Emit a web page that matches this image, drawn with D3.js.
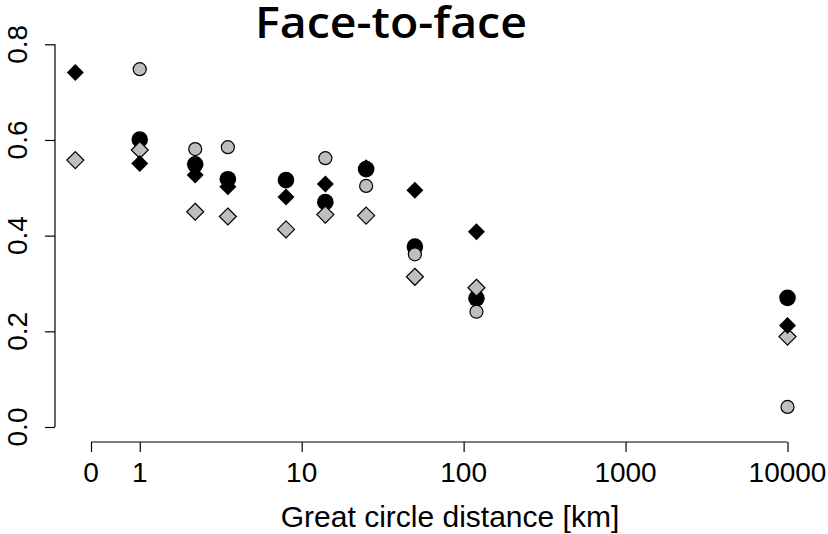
<!DOCTYPE html>
<html>
<head>
<meta charset="utf-8">
<script src="https://cdn.jsdelivr.net/npm/d3@7"></script>
<style>
    body { margin: 0; background: #fff; }
    text { font-family: "Liberation Sans", Arial, sans-serif; }
</style>
</head>
<body>
<svg id="chart"></svg>
<script>
// distance bins (km), first one sits left of the "0" tick
var distKm = [0.4, 1, 2.2, 3.5, 8, 14, 25, 50, 120, 10000];
var blackCircle = [null, 0.601, 0.549, 0.518, 0.516, 0.470, 0.539, 0.377, 0.269, 0.270];
var grayCircle = [null, 0.748, 0.581, 0.585, null, 0.562, 0.504, 0.361, 0.241, 0.042];
var grayDiamond = [0.558, 0.579, 0.450, 0.440, 0.413, 0.444, 0.442, 0.314, 0.291, 0.189];
var blackDiamond = [0.741, 0.551, 0.527, 0.502, 0.481, 0.508, 0.542, 0.495, 0.408, 0.212];

var xTickValues = [0.5, 1, 10, 100, 1000, 10000];
var xTickLabels = ["0", "1", "10", "100", "1000", "10000"];
var yTickValues = [0, 0.2, 0.4, 0.6, 0.8];
var yTickLabels = ["0.0", "0.2", "0.4", "0.6", "0.8"];

var width = 828, height = 534;

var svg = d3.select("#chart")
    .attr("width", width)
    .attr("height", height);

var x = d3.scaleLog()
    .domain([0.5, 10000])
    .range([91, 787.5]);

var y = d3.scaleLinear()
    .domain([0, 0.8])
    .range([427, 44.3]);

// title
svg.append("text")
    .attr("x", 391)
    .attr("y", 38)
    .attr("text-anchor", "middle")
    .style("font-family", "'Open Sans', sans-serif")
    .style("font-weight", "600")
    .style("font-size", "43px")
    .attr("textLength", 272)
    .attr("lengthAdjust", "spacingAndGlyphs")
    .text("Face-to-face");

// y axis
var yAxis = d3.axisLeft(y)
    .tickValues(yTickValues)
    .tickSize(10)
    .tickFormat("");
var gy = svg.append("g")
    .attr("transform", "translate(55,0)")
    .call(yAxis);
gy.select(".domain").attr("d", "M0," + y(0) + "V" + y(0.8));
gy.selectAll("line, path").attr("stroke", "#000").attr("stroke-width", 1.2);

svg.selectAll(".ylab")
    .data(yTickValues)
    .enter()
    .append("text")
    .attr("class", "ylab")
    .attr("transform", function (d) {
        return "translate(27," + y(d) + ") rotate(-90)";
    })
    .attr("text-anchor", "middle")
    .style("font-size", "28px")
    .text(function (d, i) {
        return yTickLabels[i];
    });

// x axis
var xAxis = d3.axisBottom(x)
    .tickValues(xTickValues)
    .tickSize(10)
    .tickFormat("");
var gx = svg.append("g")
    .attr("transform", "translate(0,442)")
    .call(xAxis);
gx.select(".domain").attr("d", "M" + x(0.5) + ",0H" + x(10000));
gx.selectAll("line, path").attr("stroke", "#000").attr("stroke-width", 1.2);

svg.selectAll(".xlab")
    .data(xTickValues)
    .enter()
    .append("text")
    .attr("class", "xlab")
    .attr("x", function (d) {
        return x(d);
    })
    .attr("y", 482)
    .attr("text-anchor", "middle")
    .style("font-size", "28px")
    .text(function (d, i) {
        return xTickLabels[i];
    });

svg.append("text")
    .attr("x", 450)
    .attr("y", 527)
    .attr("text-anchor", "middle")
    .style("font-size", "30px")
    .text("Great circle distance [km]");

// points
function pairs(values) {
    return distKm.map(function (d, i) {
        return {x: d, v: values[i]};
    }).filter(function (d) {
        return d.v !== null;
    });
}

var diamond = function (d) {
    var cx = x(d.x), cy = y(d.v), s = 8.5;
    return "M" + cx + "," + (cy - s) + "L" + (cx + s) + "," + cy +
        "L" + cx + "," + (cy + s) + "L" + (cx - s) + "," + cy + "Z";
};

var marks = svg.append("g");

marks.selectAll(".bc")
    .data(pairs(blackCircle))
    .enter()
    .append("circle")
    .attr("cx", function (d) { return x(d.x); })
    .attr("cy", function (d) { return y(d.v); })
    .attr("r", 8.3)
    .attr("fill", "#000");

marks.selectAll(".gc")
    .data(pairs(grayCircle))
    .enter()
    .append("circle")
    .attr("cx", function (d) { return x(d.x); })
    .attr("cy", function (d) { return y(d.v); })
    .attr("r", 6.5)
    .attr("fill", "#bebebe")
    .attr("stroke", "#000")
    .attr("stroke-width", 1.2);

marks.selectAll(".gd")
    .data(pairs(grayDiamond))
    .enter()
    .append("path")
    .attr("d", diamond)
    .attr("fill", "#bebebe")
    .attr("stroke", "#000")
    .attr("stroke-width", 1.2);

marks.selectAll(".bd")
    .data(pairs(blackDiamond))
    .enter()
    .append("path")
    .attr("d", diamond)
    .attr("fill", "#000");
</script>
</body>
</html>
